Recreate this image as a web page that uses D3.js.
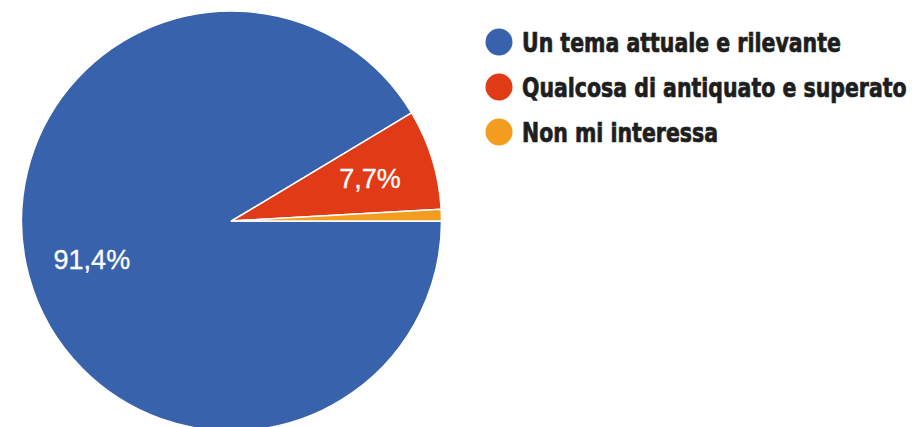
<!DOCTYPE html>
<html>
<head>
<meta charset="utf-8">
<script src="https://cdn.jsdelivr.net/npm/d3@7"></script>
<style>
  html, body { margin: 0; padding: 0; background: #fff; }
  svg { display: block; }
</style>
</head>
<body>
<svg id="chart" width="914" height="427"></svg>
<script>
// Survey answers and shares (%)
const categories = [
  "Un tema attuale e rilevante",
  "Qualcosa di antiquato e superato",
  "Non mi interessa",
];
const values = [91.4, 7.7, 0.9];
const sliceLabels = ["91,4%", "7,7%", ""];
const colors = ["#3962ad", "#e03a16", "#f39c1f"];

const width = 914, height = 427;
const cx = 231.5, cy = 221, radius = 210;

const svg = d3.select("#chart");

const pie = d3.pie()
  .sort(null)
  .value((d) => d)
  .startAngle(Math.PI / 2)
  .endAngle(Math.PI / 2 + 2 * Math.PI);

const arc = d3.arc().innerRadius(0).outerRadius(radius);
const labelArc = d3.arc().innerRadius(radius * 0.69).outerRadius(radius * 0.69);

const g = svg.append("g").attr("transform", `translate(${cx},${cy})`);

const arcs = pie(values);

g.selectAll("path.slice")
  .data(arcs)
  .join("path")
  .attr("class", "slice")
  .attr("d", arc)
  .attr("fill", (d, i) => colors[i])
  .attr("stroke", "#fff")
  .attr("stroke-width", 1.5)
  .attr("stroke-linejoin", "round");

g.selectAll("text.pct")
  .data(arcs)
  .join("text")
  .attr("class", "pct")
  .attr("transform", (d) => `translate(${labelArc.centroid(d)})`)
  .attr("text-anchor", "middle")
  .attr("dy", "0.36em")
  .attr("fill", "#fff")
  .attr("stroke", "#fff")
  .attr("stroke-width", 0.3)
  .style("font-family", "'Liberation Sans', Arial, sans-serif")
  .style("font-size", "27px")
  .text((d, i) => sliceLabels[i]);

// Legend
const legendY = d3.scalePoint()
  .domain(categories)
  .range([42, 132]);

const legend = svg.append("g")
  .selectAll("g")
  .data(categories)
  .join("g")
  .attr("transform", (d) => `translate(499,${legendY(d)})`);

legend.append("circle")
  .attr("r", 13.5)
  .attr("fill", (d, i) => colors[i]);

// condensed heavy type: squeeze horizontally so the longest entry ends near x=907
const labels = legend.append("g")
  .attr("transform", "translate(23,0)")
  .append("text")
  .attr("dy", "0.36em")
  .attr("fill", "#1e1e1e")
  .attr("stroke", "#1e1e1e")
  .attr("stroke-width", 0.7)
  .style("font-family", "'DejaVu Sans Condensed', 'DejaVu Sans', sans-serif")
  .style("font-weight", "bold")
  .style("font-size", "27px")
  .text((d) => d);

const maxLen = d3.max(labels.nodes(), (n) => n.getComputedTextLength());
const squeeze = Math.min(1, 385 / maxLen);
labels.attr("transform", `scale(${squeeze},1)`);
</script>
</body>
</html>
